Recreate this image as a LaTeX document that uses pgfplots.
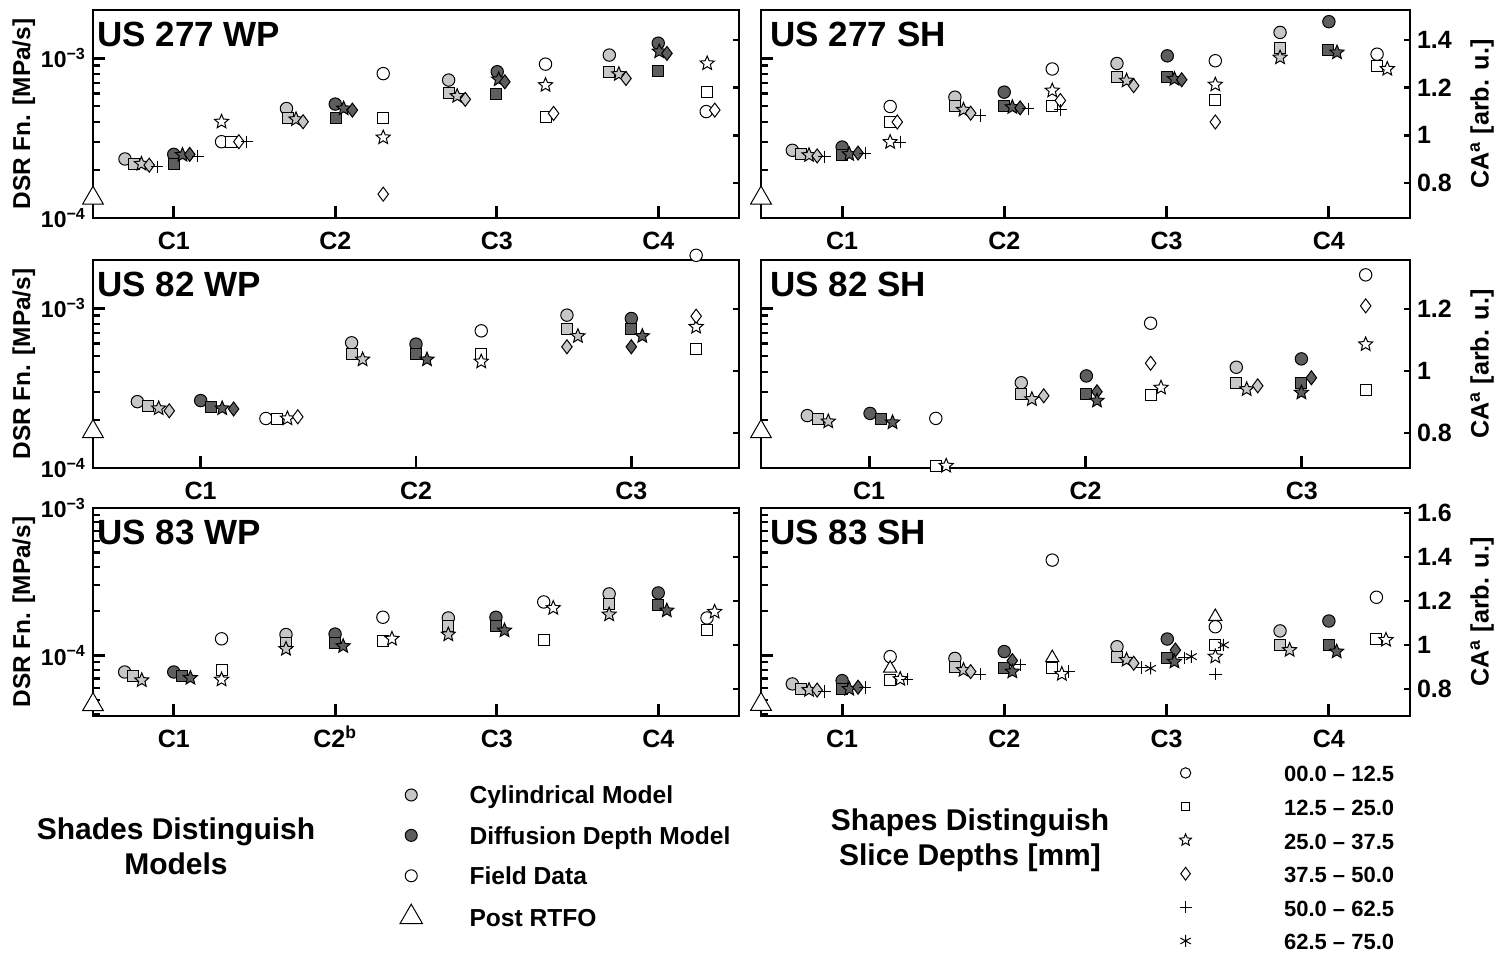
\documentclass[border=0pt]{standalone}
\usepackage{pgfplots}
\pgfplotsset{compat=1.18}
\usepackage{fontspec}
\setmainfont{Liberation Sans}
\definecolor{cylc}{gray}{0.78}
\definecolor{difc}{gray}{0.37}
\pgfdeclareplotmark{fstar}{%
  \pgfpathmoveto{\pgfpointpolar{90}{\pgfplotmarksize}}%
  \pgfpathlineto{\pgfpointpolar{126}{0.45\pgfplotmarksize}}%
  \pgfpathlineto{\pgfpointpolar{162}{\pgfplotmarksize}}%
  \pgfpathlineto{\pgfpointpolar{198}{0.45\pgfplotmarksize}}%
  \pgfpathlineto{\pgfpointpolar{234}{\pgfplotmarksize}}%
  \pgfpathlineto{\pgfpointpolar{270}{0.45\pgfplotmarksize}}%
  \pgfpathlineto{\pgfpointpolar{306}{\pgfplotmarksize}}%
  \pgfpathlineto{\pgfpointpolar{342}{0.45\pgfplotmarksize}}%
  \pgfpathlineto{\pgfpointpolar{18}{\pgfplotmarksize}}%
  \pgfpathlineto{\pgfpointpolar{54}{0.45\pgfplotmarksize}}%
  \pgfpathclose
  \pgfusepathqfillstroke}
\tikzset{ttl/.style={anchor=north west, inner sep=0pt, font=\fontsize{17.5}{20}\selectfont\bfseries}}
\pgfplotsset{
  zbase/.style={scale only axis, height=104pt, anchor=south west, clip=false,
    axis line style={-, line width=1.4pt}, tick align=inside,
    tick label style={font=\fontsize{12.5}{14}\selectfont\bfseries},
    label style={font=\fontsize{12.2}{14}\selectfont\bfseries}},
  zlog/.style={zbase, xtick pos=left, ytick pos=left,
    ytick={1e-4,1e-3}, yticklabels={10\textsuperscript{−4},10\textsuperscript{−3}},
    yticklabel style={font=\fontsize{11.5}{13}\selectfont\bfseries},
    major tick length=6pt, minor tick length=3.5pt,
    major tick style={line width=1.4pt,black}, minor tick style={line width=1.1pt,black},
    xtick={1,2,3,4}, xticklabels={C1,C2,C3,C4}, xticklabel style={yshift=-3.5pt}},
  zca/.style={zbase, xtick=\empty, axis line style={draw=none}, ytick pos=right,
    major tick length=2.8pt, major tick style={line width=1.2pt,black}},
  zdsr/.style={ylabel={DSR Fn. [MPa/s]}, ylabel style={at={(axis description cs:-0.107,0.5)}, anchor=center}},
  zcal/.style={ylabel={CA\textsuperscript{a} [arb. u.]}, ylabel style={at={(axis description cs:1.111,0.5)}, anchor=center, font=\fontsize{12.6}{14}\selectfont\bfseries}},
  zmta/.style={minor ytick={2e-4,3e-4,4e-4,5e-4,6e-4,7e-4,8e-4,9e-4}},
  zmtb/.style={minor ytick={4e-5,5e-5,6e-5,7e-5,8e-5,9e-5,2e-4,3e-4,4e-4,5e-4,6e-4,7e-4,8e-4,9e-4}},
  zpts/.style={only marks, scatter, scatter src=explicit symbolic, line width=0.5pt, forget plot,
    scatter/classes={
      Co={mark=*,mark size=3.1pt,draw=black,fill=cylc},
      Cs={mark=square*,mark size=2.75pt,draw=black,fill=cylc},
      Ct={mark=fstar,mark size=3.7pt,draw=black,fill=cylc},
      Cd={mark=diamond*,mark size=3.5pt,draw=black,fill=cylc},
      Cp={mark=+,mark size=3.1pt,draw=black},
      Ca={mark=asterisk,mark size=3.1pt,draw=black},
      Mo={mark=*,mark size=3.1pt,draw=black,fill=difc},
      Ms={mark=square*,mark size=2.75pt,draw=black,fill=difc},
      Mt={mark=fstar,mark size=3.7pt,draw=black,fill=difc},
      Md={mark=diamond*,mark size=3.5pt,draw=black,fill=difc},
      Mp={mark=+,mark size=3.1pt,draw=black},
      Ma={mark=asterisk,mark size=3.1pt,draw=black},
      Fo={mark=*,mark size=3.1pt,draw=black,fill=white},
      Fs={mark=square*,mark size=2.75pt,draw=black,fill=white},
      Ft={mark=fstar,mark size=3.7pt,draw=black,fill=white},
      Fd={mark=diamond*,mark size=3.5pt,draw=black,fill=white},
      Fp={mark=+,mark size=3.1pt,draw=black},
      Fa={mark=asterisk,mark size=3.1pt,draw=black},
      Fg={mark=triangle*,mark size=3.8pt,draw=black,fill=white},
      Tr={mark=triangle*,mark size=6pt,draw=black,fill=white}}},
}
\begin{document}
\begin{tikzpicture}
\path[use as bounding box] (0,0) rectangle (749.5pt,477pt);
% ---------------- TL: US 277 WP
\begin{axis}[zca, at={(46.5pt,368pt)}, width=323pt, xmin=0.5, xmax=4.5, ymin=0.654, ymax=1.525, ytick={0.8,1,1.2,1.4}, yticklabels={,}]
\end{axis}
\begin{axis}[ymode=log, zlog, zdsr, zmta, at={(46.5pt,368pt)}, width=323pt, xmin=0.5, xmax=4.5, ymin=1e-4, ymax=2e-3]
\addplot[zpts] table[meta=c] {
x y c
0.698 2.34e-4 Co
0.753 2.18e-4 Cs
0.80 2.18e-4 Ct
0.848 2.14e-4 Cd
0.897 2.09e-4 Cp
1.0 2.50e-4 Mo
1.004 2.18e-4 Ms
1.054 2.48e-4 Mt
1.099 2.50e-4 Md
1.15 2.44e-4 Mp
1.296 3.0e-4 Fo
1.356 3.0e-4 Fs
1.296 4.0e-4 Ft
1.403 3.0e-4 Fd
1.452 3.0e-4 Fp
1.698 4.84e-4 Co
1.707 4.2e-4 Cs
1.757 4.14e-4 Ct
1.801 4.0e-4 Cd
2.0 5.16e-4 Mo
2.002 4.2e-4 Ms
2.052 4.84e-4 Mt
2.106 4.73e-4 Md
2.297 8.0e-4 Fo
2.297 4.2e-4 Fs
2.297 3.19e-4 Ft
2.297 1.41e-4 Fd
2.702 7.29e-4 Co
2.702 6.02e-4 Cs
2.755 5.79e-4 Ct
2.805 5.52e-4 Cd
3.003 8.22e-4 Mo
2.997 5.96e-4 Ms
3.012 7.36e-4 Mt
3.05 7.11e-4 Md
3.302 9.17e-4 Fo
3.302 4.30e-4 Fs
3.302 6.78e-4 Ft
3.352 4.51e-4 Fd
3.697 1.045e-3 Co
3.697 8.22e-4 Cs
3.756 7.94e-4 Ct
3.8 7.46e-4 Cd
4.0 1.24e-3 Mo
4.0 8.34e-4 Ms
4.006 1.10e-3 Mt
4.054 1.07e-3 Md
4.297 4.63e-4 Fo
4.303 6.17e-4 Fs
4.303 9.27e-4 Ft
4.35 4.73e-4 Fd
0.5 1.33e-4 Tr
};
\node[ttl] at ([xshift=2pt,yshift=-6pt]rel axis cs:0,1) {US 277 WP};
\end{axis}
% ---------------- TR: US 277 SH
\begin{axis}[ymode=log, zlog, zmta, at={(380.5pt,368pt)}, width=324.5pt, xmin=0.5, xmax=4.5, ymin=1e-4, ymax=2e-3, yticklabels={,}]
\node[ttl] at ([xshift=4.6pt,yshift=-6pt]rel axis cs:0,1) {US 277 SH};
\end{axis}
\begin{axis}[zca, zcal, at={(380.5pt,368pt)}, width=324.5pt, xmin=0.5, xmax=4.5, ymin=0.654, ymax=1.525, ytick={0.8,1,1.2,1.4}, yticklabels={0.8,1,1.2,1.4}]
\addplot[zpts] table[meta=c] {
x y c
0.693 0.9375 Co
0.749 0.921 Cs
0.796 0.917 Ct
0.846 0.914 Cd
0.891 0.910 Cp
1.0 0.951 Mo
1.0 0.917 Ms
1.044 0.921 Mt
1.098 0.926 Md
1.142 0.926 Mp
1.296 1.121 Fo
1.296 1.056 Fs
1.296 0.972 Ft
1.34 1.056 Fd
1.358 0.972 Fp
1.695 1.16 Co
1.695 1.121 Cs
1.748 1.107 Ct
1.792 1.093 Cd
1.851 1.083 Cp
1.999 1.181 Mo
1.999 1.121 Ms
2.049 1.118 Mt
2.097 1.115 Md
2.147 1.111 Mp
2.295 1.278 Fo
2.295 1.121 Fs
2.295 1.1875 Ft
2.345 1.146 Fd
2.345 1.107 Fp
2.694 1.301 Co
2.694 1.246 Cs
2.753 1.229 Ct
2.797 1.208 Cd
3.004 1.333 Mo
3.004 1.246 Ms
3.048 1.236 Mt
3.093 1.233 Md
3.30 1.3125 Fo
3.30 1.149 Fs
3.30 1.2125 Ft
3.30 1.056 Fd
3.699 1.431 Co
3.699 1.365 Cs
3.699 1.326 Ct
4.0 1.476 Mo
3.994 1.357 Ms
4.05 1.347 Mt
4.297 1.340 Fo
4.297 1.292 Fs
4.36 1.278 Ft
0.5 0.7375 Tr
};
\end{axis}
% ---------------- ML: US 82 WP
\begin{axis}[zca, at={(46.5pt,243pt)}, width=323pt, xmin=0.5, xmax=3.5, ymin=0.687, ymax=1.358, ytick={0.8,1,1.2}, yticklabels={,}]
\end{axis}
\begin{axis}[ymode=log, zlog, zdsr, zmta, at={(46.5pt,243pt)}, width=323pt, xmin=0.5, xmax=3.5, ymin=1e-4, ymax=2e-3, xtick={1,2,3}, xticklabels={C1,C2,C3}]
\addplot[zpts] table[meta=c] {
x y c
0.706 2.60e-4 Co
0.754 2.44e-4 Cs
0.805 2.36e-4 Ct
0.854 2.28e-4 Cd
1.0 2.64e-4 Mo
1.049 2.42e-4 Ms
1.10 2.36e-4 Mt
1.153 2.34e-4 Md
1.303 2.04e-4 Fo
1.354 2.04e-4 Fs
1.403 2.04e-4 Ft
1.451 2.09e-4 Fd
1.701 6.07e-4 Co
1.701 5.16e-4 Cs
1.752 4.77e-4 Ct
2.0 5.96e-4 Mo
2.0 5.16e-4 Ms
2.051 4.77e-4 Mt
2.303 7.21e-4 Fo
2.303 5.16e-4 Fs
2.303 4.63e-4 Ft
2.701 9.04e-4 Co
2.701 7.36e-4 Cs
2.752 6.68e-4 Ct
2.701 5.73e-4 Cd
3.0 8.61e-4 Mo
3.0 7.36e-4 Ms
3.051 6.68e-4 Mt
3.0 5.73e-4 Md
3.301 2.14e-3 Fo
3.301 5.52e-4 Fs
3.301 7.63e-4 Ft
3.301 8.91e-4 Fd
0.5 1.69e-4 Tr
};
\node[ttl] at ([xshift=2pt,yshift=-6pt]rel axis cs:0,1) {US 82 WP};
\end{axis}
% ---------------- MR: US 82 SH
\begin{axis}[ymode=log, zlog, zmta, at={(380.5pt,243pt)}, width=324.5pt, xmin=0.5, xmax=3.5, ymin=1e-4, ymax=2e-3, yticklabels={,}, xtick={1,2,3}, xticklabels={C1,C2,C3}]
\node[ttl] at ([xshift=4.6pt,yshift=-6pt]rel axis cs:0,1) {US 82 SH};
\end{axis}
\begin{axis}[zca, zcal, at={(380.5pt,243pt)}, width=324.5pt, xmin=0.5, xmax=3.5, ymin=0.687, ymax=1.358, ytick={0.8,1,1.2}, yticklabels={0.8,1,1.2}]
\addplot[zpts] table[meta=c] {
x y c
0.714 0.856 Co
0.763 0.845 Cs
0.811 0.837 Ct
1.004 0.863 Mo
1.055 0.845 Ms
1.108 0.834 Mt
1.308 0.847 Fo
1.308 0.694 Fs
1.356 0.694 Ft
1.703 0.962 Co
1.703 0.925 Cs
1.752 0.909 Ct
1.807 0.920 Cd
2.004 0.984 Mo
2.004 0.925 Ms
2.053 0.933 Md
2.053 0.904 Mt
2.301 1.154 Fo
2.301 1.025 Fd
2.301 0.923 Fs
2.349 0.946 Ft
2.697 1.012 Co
2.697 0.962 Cs
2.745 0.941 Ct
2.796 0.952 Cd
2.998 1.039 Mo
2.998 0.962 Ms
3.044 0.978 Md
2.998 0.930 Mt
3.295 1.310 Fo
3.295 1.210 Fd
3.295 1.086 Ft
3.295 0.939 Fs
0.5 0.804 Tr
};
\end{axis}
% ---------------- BL: US 83 WP
\begin{axis}[zca, at={(46.5pt,119pt)}, width=323pt, xmin=0.5, xmax=4.5, ymin=0.677, ymax=1.623, ytick={0.8,1,1.2,1.4,1.6}, yticklabels={,}]
\end{axis}
\begin{axis}[ymode=log, zlog, zdsr, zmtb, at={(46.5pt,119pt)}, width=323pt, xmin=0.5, xmax=4.5, ymin=3.9e-5, ymax=1e-3,
  xticklabels={C1,C2\smash{\textsuperscript{b}},C3,C4},
  legend style={at={(0.4752,-0.322)}, anchor=north west, draw=none, fill=none, inner sep=0pt, outer sep=0pt,
    font=\fontsize{12.3}{14}\selectfont\bfseries, row sep=8.2pt, column sep=23.5pt,
    nodes={inner sep=0pt, text height=10.5pt, text depth=1.5pt}},
  legend cell align=left,
  legend image code/.code={\path (-5pt,0pt) (5pt,0pt); \draw[#1,/tikz/only marks] plot coordinates {(0pt,0pt)};}]
\addplot[zpts] table[meta=c] {
x y c
0.696 7.75e-5 Co
0.749 7.24e-5 Cs
0.802 6.81e-5 Ct
1.0 7.75e-5 Mo
1.05 7.24e-5 Ms
1.103 7.06e-5 Mt
1.296 1.30e-4 Fo
1.296 8.04e-5 Fs
1.296 6.88e-5 Ft
1.695 1.39e-4 Co
1.695 1.22e-4 Cs
1.695 1.11e-4 Ct
1.999 1.40e-4 Mo
1.999 1.22e-4 Ms
2.049 1.16e-4 Mt
2.295 1.82e-4 Fo
2.295 1.25e-4 Fs
2.351 1.30e-4 Ft
2.70 1.80e-4 Co
2.70 1.58e-4 Cs
2.70 1.39e-4 Ct
2.995 1.82e-4 Mo
2.995 1.58e-4 Ms
3.048 1.48e-4 Mt
3.291 2.31e-4 Fo
3.291 1.28e-4 Fs
3.35 2.10e-4 Ft
3.696 2.62e-4 Co
3.696 2.24e-4 Cs
3.696 1.90e-4 Ct
4.0 2.66e-4 Mo
4.0 2.22e-4 Ms
4.053 2.02e-4 Mt
4.302 1.80e-4 Fo
4.302 1.50e-4 Fs
4.349 1.98e-4 Ft
0.5 4.65e-5 Tr
};
\addlegendimage{mark=*, mark size=3pt, draw=black, fill=cylc, line width=0.5pt}
\addlegendentry{Cylindrical Model}
\addlegendimage{mark=*, mark size=3pt, draw=black, fill=difc, line width=0.5pt}
\addlegendentry{Diffusion Depth Model}
\addlegendimage{mark=*, mark size=3pt, draw=black, fill=white, line width=0.5pt}
\addlegendentry{Field Data}
\addlegendimage{mark=triangle*, mark size=6.5pt, draw=black, fill=white, line width=0.5pt}
\addlegendentry{Post RTFO}
\node[ttl] at ([xshift=2pt,yshift=-6pt]rel axis cs:0,1) {US 83 WP};
\end{axis}
% ---------------- BR: US 83 SH
\begin{axis}[ymode=log, zlog, zmtb, at={(380.5pt,119pt)}, width=324.5pt, xmin=0.5, xmax=4.5, ymin=3.9e-5, ymax=1e-3, yticklabels={,}]
\node[ttl] at ([xshift=4.6pt,yshift=-6pt]rel axis cs:0,1) {US 83 SH};
\end{axis}
\begin{axis}[zca, zcal, at={(380.5pt,119pt)}, width=324.5pt, xmin=0.5, xmax=4.5, ymin=0.677, ymax=1.623, ytick={0.8,1,1.2,1.4,1.6}, yticklabels={0.8,1,1.2,1.4,1.6},
  legend style={at={(0.638,-0.216)}, anchor=north west, draw=none, fill=none, inner sep=0pt, outer sep=0pt,
    font=\fontsize{11}{12}\selectfont\bfseries, row sep=4.8pt, column sep=44pt,
    nodes={inner sep=0pt, text height=10.5pt, text depth=1.5pt}},
  legend cell align=left,
  legend image code/.code={\path (-5pt,0pt) (5pt,0pt); \draw[#1,/tikz/only marks] plot coordinates {(0pt,0pt)};}]
\addplot[zpts] table[meta=c] {
x y c
0.693 0.823 Co
0.749 0.80 Cs
0.796 0.795 Ct
0.846 0.795 Cd
0.891 0.788 Cp
1.0 0.838 Mo
1.0 0.80 Ms
1.044 0.80 Mt
1.098 0.808 Md
1.142 0.806 Mp
1.296 0.947 Fo
1.296 0.894 Fg
1.296 0.841 Fs
1.358 0.845 Ft
1.40 0.845 Fp
1.695 0.939 Co
1.695 0.902 Cs
1.748 0.886 Ct
1.792 0.879 Cd
1.851 0.868 Cp
1.999 0.970 Mo
1.999 0.894 Ms
2.049 0.929 Md
2.049 0.879 Mt
2.097 0.909 Mp
2.295 1.386 Fo
2.295 0.942 Fg
2.295 0.894 Fs
2.354 0.868 Ft
2.398 0.879 Fp
2.694 0.992 Co
2.694 0.947 Cs
2.753 0.932 Ct
2.797 0.917 Cd
2.847 0.898 Cp
2.901 0.894 Ca
3.004 1.027 Mo
3.004 0.942 Ms
3.054 0.977 Md
3.048 0.924 Mt
3.108 0.942 Mp
3.152 0.947 Ma
3.30 1.129 Fg
3.30 1.083 Fo
3.30 1.0 Fs
3.35 1.0 Fa
3.30 0.947 Ft
3.30 0.868 Fp
3.699 1.064 Co
3.699 1.0 Cs
3.758 0.977 Ct
4.0 1.109 Mo
4.0 1.0 Ms
4.048 0.970 Mt
4.293 1.217 Fo
4.293 1.026 Fs
4.352 1.023 Ft
0.5 0.730 Tr
};
\addlegendimage{mark=*, mark size=2.6pt, draw=black, fill=white, line width=0.5pt}
\addlegendentry{00.0 -- 12.5}
\addlegendimage{mark=square*, mark size=2.1pt, draw=black, fill=white, line width=0.5pt}
\addlegendentry{12.5 -- 25.0}
\addlegendimage{mark=fstar, mark size=3.1pt, draw=black, fill=white, line width=0.5pt}
\addlegendentry{25.0 -- 37.5}
\addlegendimage{mark=diamond*, mark size=3.2pt, draw=black, fill=white, line width=0.5pt}
\addlegendentry{37.5 -- 50.0}
\addlegendimage{mark=+, mark size=3pt, draw=black, line width=0.5pt}
\addlegendentry{50.0 -- 62.5}
\addlegendimage{mark=asterisk, mark size=3pt, draw=black, line width=0.5pt}
\addlegendentry{62.5 -- 75.0}
\end{axis}
\node[align=center, font=\fontsize{15}{17.5}\selectfont\bfseries] at (88pt,53.75pt) {Shades Distinguish\\Models};
\node[align=center, font=\fontsize{15}{17.5}\selectfont\bfseries] at (485pt,56.75pt) {Shapes Distinguish\\Slice Depths [mm]};
\end{tikzpicture}
\end{document}
